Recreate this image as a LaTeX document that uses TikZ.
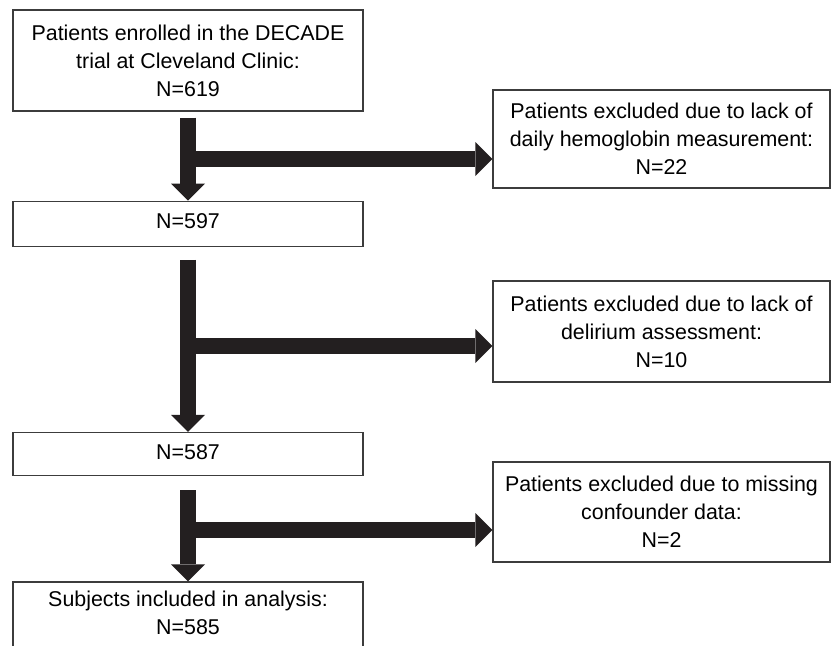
\documentclass[tikz,border=0pt]{standalone}
\usepackage{fontspec}
\setmainfont{Liberation Sans}
\usepackage{tikz}
\usetikzlibrary{arrows.meta,positioning}
\definecolor{arrowblack}{HTML}{231F20}
\definecolor{boxgray}{HTML}{3C3C3C}

\begin{document}
\begin{tikzpicture}[x=1pt,y=1pt,every node/.style={font=\fontsize{21.4}{28}\selectfont},
  box/.style={draw=boxgray,line width=1.3pt,fill=white,align=center,inner sep=0pt,minimum width=350pt},
  exbox/.style={box,minimum width=337pt},
  fat/.style={draw=arrowblack,line width=16pt,-{Triangle[width=34pt,length=17pt,line width=0pt]}}]
\useasboundingbox (0,0) rectangle (831,-646);
\clip (0,0) rectangle (831,-646);
% left column
\node[box,minimum height=101pt](enrol) at (188,-60.5){Patients enrolled in the DECADE\\trial at Cleveland Clinic:\\N=619};
\node[box,minimum height=45pt,text depth=5pt,below=89pt of enrol](n597){N=597};
\node[box,minimum height=43pt,text depth=5pt,below=185pt of n597](n587){N=587};
\node[box,inner ysep=9pt,text depth=14pt,below=105pt of n587](incl){Subjects included in analysis:\\N=585};
% exclusions
\node[exbox,minimum height=98pt](ex1) at (661.5,-139){Patients excluded due to lack of\\daily hemoglobin measurement:\\N=22};
\node[exbox,minimum height=101pt](ex2) at (661.5,-331.5){Patients excluded due to lack of\\delirium assessment:\\N=10};
\node[exbox,minimum height=100pt](ex3) at (661.5,-512){Patients excluded due to missing\\confounder data:\\N=2};
% arrows
\coordinate (j1) at (188,-159);
\coordinate (j2) at (188,-346);
\coordinate (j3) at (188,-530);
\draw[fat,shorten <=6pt](enrol)--(n597);
\draw[fat,shorten <=13pt](n597)--(n587);
\draw[fat,shorten <=14pt](n587)--(incl);
\draw[fat](j1)--(j1 -| ex1.west);
\draw[fat](j2)--(j2 -| ex2.west);
\draw[fat](j3)--(j3 -| ex3.west);
\end{tikzpicture}
\end{document}
